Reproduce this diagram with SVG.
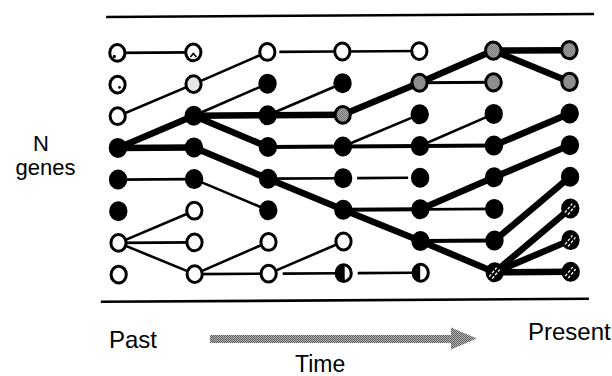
<svg xmlns="http://www.w3.org/2000/svg" width="612" height="376" viewBox="0 0 612 376">
<defs>
<pattern id="ht" width="2" height="2" patternUnits="userSpaceOnUse"><rect width="2" height="2" fill="#d8d8d8"/><rect width="1" height="1" fill="#444"/><rect x="1" y="1" width="1" height="1" fill="#444"/></pattern>
<pattern id="ha" width="2" height="2" patternUnits="userSpaceOnUse"><rect width="2" height="2" fill="#b8b8b8"/><rect width="1" height="1" fill="#5a5a5a"/><rect x="1" y="1" width="1" height="1" fill="#5a5a5a"/></pattern>
<clipPath id="left4"><rect x="330" y="260" width="14" height="28"/></clipPath>
<clipPath id="left5"><rect x="407" y="260" width="12.5" height="28"/></clipPath>
<style>
.open{fill:#fff;stroke:#000;stroke-width:3}
.blk{fill:#000}
.gray{fill:url(#ht);stroke:#000;stroke-width:3}
.stp{stroke:#fff;stroke-width:1.3;stroke-dasharray:3 1.6;fill:none}
.thin{stroke:#000;stroke-width:2.6;fill:none}
.mid{stroke:#000;stroke-width:4;fill:none}
.thick{stroke:#000;stroke-width:6.5;fill:none}
.rule{stroke:#000;stroke-width:2.6}
.lbl{font-family:"Liberation Sans",Arial,sans-serif;fill:#000}
.mark{fill:#000}
</style>
</defs>
<rect width="612" height="376" fill="#fff"/>
<g transform="rotate(-0.35 345 160)">
<line class="rule" x1="107" y1="15.5" x2="595" y2="15.5"/>
<line class="rule" x1="100" y1="300.3" x2="588" y2="300.3"/>
<g id="connectors">
<line class="thin" x1="118" y1="51.5" x2="194" y2="51.5"/>
<line class="thin" x1="118" y1="114.8" x2="194" y2="83.2"/>
<line class="thin" x1="118" y1="178.2" x2="194" y2="178.2"/>
<line class="thin" x1="118" y1="241.5" x2="194" y2="209.8"/>
<line class="thin" x1="118" y1="241.5" x2="194" y2="241.5"/>
<line class="thin" x1="118" y1="241.5" x2="194" y2="273.2"/>
<line class="thin" x1="194" y1="83.2" x2="268" y2="51.5"/>
<line class="thin" x1="194" y1="114.8" x2="268" y2="83.2"/>
<line class="thin" x1="194" y1="178.2" x2="268" y2="209.8"/>
<line class="thin" x1="194" y1="273.2" x2="268" y2="241.5"/>
<line class="thin" x1="194" y1="273.2" x2="268" y2="273.2"/>
<line class="thin" x1="280" y1="51.5" x2="335" y2="51.5"/>
<line class="thin" x1="268" y1="114.8" x2="343" y2="83.2"/>
<line class="thin" x1="268" y1="178.2" x2="343" y2="178.2"/>
<line class="thin" x1="268" y1="273.2" x2="343" y2="241.5"/>
<line class="thin" x1="282" y1="273.2" x2="340" y2="273.2"/>
<line class="thin" x1="343" y1="51.5" x2="420" y2="51.5"/>
<line class="thin" x1="343" y1="146.5" x2="420" y2="114.8"/>
<line class="thin" x1="357" y1="178.2" x2="408" y2="178.2"/>
<line class="thin" x1="357" y1="273.2" x2="412" y2="273.2"/>
<line class="thin" x1="420" y1="83.2" x2="494" y2="83.2" style="stroke-width:3"/>
<line class="thin" x1="420" y1="146.5" x2="494" y2="114.8"/>
<line class="thin" x1="420" y1="209.8" x2="494" y2="209.8"/>
<line class="mid" x1="268" y1="146.5" x2="343" y2="146.5"/>
<line class="mid" x1="343" y1="146.5" x2="420" y2="146.5"/>
<line class="mid" x1="343" y1="209.8" x2="420" y2="209.8"/>
<line class="mid" x1="420" y1="146.5" x2="494" y2="146.5"/>
<line class="mid" x1="420" y1="241.5" x2="494" y2="241.5"/>
<line class="thick" x1="118" y1="146.5" x2="194" y2="114.8"/>
<line class="thick" x1="118" y1="146.5" x2="194" y2="146.5"/>
<line class="thick" x1="194" y1="114.8" x2="268" y2="114.8"/>
<line class="thick" x1="194" y1="114.8" x2="268" y2="146.5"/>
<line class="thick" x1="194" y1="146.5" x2="268" y2="178.2"/>
<line class="thick" x1="268" y1="114.8" x2="343" y2="114.8"/>
<line class="thick" x1="268" y1="178.2" x2="343" y2="209.8"/>
<line class="thick" x1="343" y1="114.8" x2="420" y2="83.2"/>
<line class="thick" x1="343" y1="209.8" x2="420" y2="241.5"/>
<line class="thick" x1="420" y1="83.2" x2="494" y2="51.5"/>
<line class="thick" x1="420" y1="209.8" x2="494" y2="178.2"/>
<line class="thick" x1="420" y1="241.5" x2="494" y2="273.2"/>
<line class="thick" x1="494" y1="51.5" x2="570" y2="51.5"/>
<line class="thick" x1="494" y1="51.5" x2="570" y2="83.2"/>
<line class="thick" x1="494" y1="146.5" x2="570" y2="114.8"/>
<line class="thick" x1="494" y1="178.2" x2="570" y2="146.5"/>
<line class="thick" x1="494" y1="241.5" x2="570" y2="178.2"/>
<line class="thick" x1="494" y1="273.2" x2="570" y2="209.8"/>
<line class="thick" x1="494" y1="273.2" x2="570" y2="241.5"/>
<line class="thick" x1="494" y1="273.2" x2="570" y2="273.2"/>
</g>
<!-- column 1 -->
<g id="n1-1"><ellipse class="open" cx="118" cy="51.5" rx="7.6" ry="8.4"/><circle class="mark" cx="115" cy="55" r="1.6"/></g>
<g id="n1-2"><ellipse class="open" cx="118" cy="83.2" rx="7.6" ry="8.4"/><circle class="mark" cx="120" cy="86" r="1.4"/></g>
<g id="n1-3"><ellipse class="open" cx="118" cy="114.8" rx="7.6" ry="8.4"/></g>
<g id="n1-4"><ellipse class="blk" cx="118" cy="146.5" rx="9.2" ry="10"/></g>
<g id="n1-5"><ellipse class="blk" cx="118" cy="178.2" rx="9.2" ry="10"/></g>
<g id="n1-6"><ellipse class="blk" cx="118" cy="209.8" rx="9.2" ry="10"/></g>
<g id="n1-7"><ellipse class="open" cx="118" cy="241.5" rx="7.6" ry="8.4"/></g>
<g id="n1-8"><ellipse class="open" cx="118" cy="273.2" rx="7.6" ry="8.4"/></g>
<!-- column 2 -->
<g id="n2-1"><ellipse class="open" cx="194" cy="51.5" rx="7.6" ry="8.4"/><path d="M191 56 L194 52.5 L197 56" stroke="#000" stroke-width="1.6" fill="none"/></g>
<g id="n2-2"><ellipse class="open" cx="194" cy="83.2" rx="7.6" ry="8.4" style="fill:#e6e6e6"/></g>
<g id="n2-3"><ellipse class="blk" cx="194" cy="114.8" rx="9.2" ry="10"/></g>
<g id="n2-4"><ellipse class="blk" cx="194" cy="146.5" rx="9.2" ry="10"/></g>
<g id="n2-5"><ellipse class="blk" cx="194" cy="178.2" rx="9.2" ry="10"/></g>
<g id="n2-6"><ellipse class="open" cx="194" cy="209.8" rx="7.6" ry="8.4"/></g>
<g id="n2-7"><ellipse class="open" cx="194" cy="241.5" rx="7.6" ry="8.4"/></g>
<g id="n2-8"><ellipse class="open" cx="194" cy="273.2" rx="7.6" ry="8.4"/></g>
<!-- column 3 -->
<g id="n3-1"><ellipse class="open" cx="268" cy="51.5" rx="7.6" ry="8.4"/></g>
<g id="n3-2"><ellipse class="blk" cx="268" cy="83.2" rx="9.2" ry="10"/></g>
<g id="n3-3"><ellipse class="blk" cx="268" cy="114.8" rx="9.2" ry="10"/></g>
<g id="n3-4"><ellipse class="blk" cx="268" cy="146.5" rx="9.2" ry="10"/></g>
<g id="n3-5"><ellipse class="blk" cx="268" cy="178.2" rx="9.2" ry="10"/></g>
<g id="n3-6"><ellipse class="blk" cx="268" cy="209.8" rx="9.2" ry="10"/></g>
<g id="n3-7"><ellipse class="open" cx="268" cy="241.5" rx="7.6" ry="8.4"/></g>
<g id="n3-8"><ellipse class="open" cx="268" cy="273.2" rx="7.6" ry="8.4"/></g>
<!-- column 4 -->
<g id="n4-1"><ellipse class="open" cx="343" cy="51.5" rx="7.6" ry="8.4"/></g>
<g id="n4-2"><ellipse class="blk" cx="343" cy="83.2" rx="9.2" ry="10"/></g>
<g id="n4-3"><ellipse class="gray" cx="343" cy="114.8" rx="7.6" ry="8.4"/></g>
<g id="n4-4"><ellipse class="blk" cx="343" cy="146.5" rx="9.2" ry="10"/></g>
<g id="n4-5"><ellipse class="blk" cx="343" cy="178.2" rx="9.2" ry="10"/></g>
<g id="n4-6"><ellipse class="blk" cx="343" cy="209.8" rx="9.2" ry="10"/></g>
<g id="n4-7"><ellipse class="open" cx="343" cy="241.5" rx="7.6" ry="8.4"/></g>
<g id="n4-8"><ellipse class="open" cx="343" cy="273.2" rx="7.6" ry="8.4"/><ellipse class="blk" cx="343" cy="273.2" rx="8" ry="8.8" clip-path="url(#left4)"/></g>
<!-- column 5 -->
<g id="n5-1"><ellipse class="open" cx="420" cy="51.5" rx="7.6" ry="8.4"/></g>
<g id="n5-2"><ellipse class="gray" cx="420" cy="83.2" rx="7.6" ry="8.4"/></g>
<g id="n5-3"><ellipse class="blk" cx="420" cy="114.8" rx="9.2" ry="10"/></g>
<g id="n5-4"><ellipse class="blk" cx="420" cy="146.5" rx="9.2" ry="10"/></g>
<g id="n5-5"><ellipse class="blk" cx="420" cy="178.2" rx="9.2" ry="10"/></g>
<g id="n5-6"><ellipse class="blk" cx="420" cy="209.8" rx="9.2" ry="10"/></g>
<g id="n5-7"><ellipse class="blk" cx="420" cy="241.5" rx="9.2" ry="10"/></g>
<g id="n5-8"><ellipse class="open" cx="420" cy="273.2" rx="7.6" ry="8.4"/><ellipse class="blk" cx="420" cy="273.2" rx="8" ry="8.8" clip-path="url(#left5)"/></g>
<!-- column 6 -->
<g id="n6-1"><ellipse class="gray" cx="494" cy="51.5" rx="7.8" ry="8.6"/></g>
<g id="n6-2"><ellipse class="gray" cx="494" cy="83.2" rx="7.8" ry="8.6"/></g>
<g id="n6-3"><ellipse class="blk" cx="494" cy="114.8" rx="9.2" ry="10"/></g>
<g id="n6-4"><ellipse class="blk" cx="494" cy="146.5" rx="9.2" ry="10"/></g>
<g id="n6-5"><ellipse class="blk" cx="494" cy="178.2" rx="9.2" ry="10"/></g>
<g id="n6-6"><ellipse class="blk" cx="494" cy="209.8" rx="9.2" ry="10"/></g>
<g id="n6-7"><ellipse class="blk" cx="494" cy="241.5" rx="9.2" ry="10"/></g>
<g id="n6-8"><ellipse class="blk" cx="494" cy="273.2" rx="9.2" ry="10"/><path class="stp" d="M488.5 277.5 L496 268.5 M491.5 279.5 L499 270.5"/></g>
<!-- column 7 -->
<g id="n7-1"><ellipse class="gray" cx="570" cy="51.5" rx="7.8" ry="8.6"/></g>
<g id="n7-2"><ellipse class="gray" cx="570" cy="83.2" rx="7.8" ry="8.6"/></g>
<g id="n7-3"><ellipse class="blk" cx="570" cy="114.8" rx="9.2" ry="10"/></g>
<g id="n7-4"><ellipse class="blk" cx="570" cy="146.5" rx="9.2" ry="10"/></g>
<g id="n7-5"><ellipse class="blk" cx="570" cy="178.2" rx="9.2" ry="10"/></g>
<g id="n7-6"><ellipse class="blk" cx="570" cy="209.8" rx="9.2" ry="10"/><path class="stp" d="M564.5 214 L572 205 M567.5 216 L575 207"/></g>
<g id="n7-7"><ellipse class="blk" cx="570" cy="241.5" rx="9.2" ry="10"/><path class="stp" d="M564.5 245.8 L572 236.8 M567.5 247.8 L575 238.8"/></g>
<g id="n7-8"><ellipse class="blk" cx="570" cy="273.2" rx="9.2" ry="10"/><path class="stp" d="M564.5 277.5 L572 268.5 M567.5 279.5 L575 270.5"/></g>
</g>
<g id="labels">
<text class="lbl" x="41" y="151" font-size="22" text-anchor="middle">N</text>
<text class="lbl" x="45.5" y="175" font-size="22" text-anchor="middle">genes</text>
<text class="lbl" x="109" y="348" font-size="24">Past</text>
<text class="lbl" x="528" y="340" font-size="24">Present</text>
<text class="lbl" x="295" y="372" font-size="23">Time</text>
</g>
<g id="time-arrow">
<path d="M210 335 L451 335 L451 327.5 L477 338.5 L451 349.5 L451 343 L210 343 Z" fill="url(#ha)"/>
</g>
</svg>
